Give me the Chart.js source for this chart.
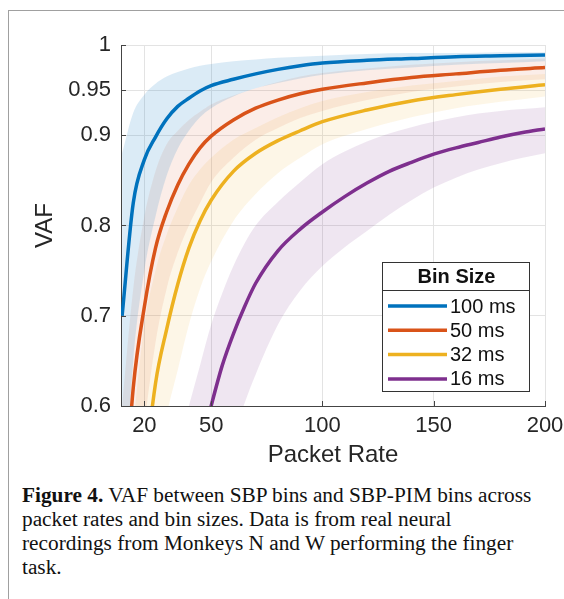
<!DOCTYPE html>
<html>
<head>
<meta charset="utf-8">
<script src="https://cdn.jsdelivr.net/npm/chart.js@4.4.1/dist/chart.umd.min.js"></script>
<style>
  html, body { margin: 0; padding: 0; background: #fff; }
  body { width: 564px; height: 599px; position: relative; overflow: hidden; }
  #frame { position: absolute; left: 8px; top: 10px; right: 0; bottom: 0;
           border-left: 1px solid #a0a0a0; border-top: 1px solid #a0a0a0; }
  #wrap { position: absolute; left: 0; top: 0; width: 564px; height: 475px; }
  #caption { position: absolute; left: 22px; top: 483px; white-space: nowrap;
             font-family: "Liberation Serif", "Times New Roman", serif;
             font-size: 21.3px; line-height: 24px; color: #111; }
</style>
</head>
<body>
<div id="frame"></div>
<div id="wrap"><canvas id="vafChart" width="564" height="475"></canvas></div>
<div id="caption"><b>Figure 4.</b> VAF between SBP bins and SBP-PIM bins across<br>packet rates and bin sizes. Data is from real neural<br>recordings from Monkeys N and W performing the finger<br>task.</div>

<script>
// tick labels
const xTicks = [20, 50, 100, 150, 200];
const yTicks = [0.6, 0.7, 0.8, 0.9, 0.95, 1];

// legend
const binLabels = ['100 ms', '50 ms', '32 ms', '16 ms'];
const lineColors = ['#0072BD', '#D95319', '#EDB120', '#7E2F8E'];
const bandColors = ['rgba(0,114,189,0.14)', 'rgba(217,83,25,0.10)', 'rgba(237,177,32,0.11)', 'rgba(126,47,142,0.12)'];

// 100 ms
const rates100 = [10, 15, 20, 25, 30, 35, 40, 45, 50, 60, 70, 80, 90, 100, 120, 140, 160, 180, 200];
const vaf100 = [0.70, 0.825, 0.873, 0.898, 0.918, 0.932, 0.941, 0.949, 0.955, 0.962, 0.968, 0.973, 0.977, 0.980, 0.983, 0.985, 0.987, 0.988, 0.989];
const upper100 = [0.88, 0.925, 0.945, 0.957, 0.965, 0.970, 0.974, 0.977, 0.979, 0.982, 0.984, 0.986, 0.987, 0.988, 0.990, 0.991, 0.991, 0.992, 0.992];
const lower100 = [0.45, 0.65, 0.75, 0.81, 0.855, 0.885, 0.905, 0.92, 0.93, 0.943, 0.952, 0.958, 0.963, 0.967, 0.972, 0.975, 0.978, 0.980, 0.982];

// 50 ms
const rates50 = [10, 15, 20, 25, 30, 35, 40, 45, 50, 60, 70, 80, 90, 100, 120, 140, 160, 180, 200];
const vaf50 = [0.45, 0.62, 0.71, 0.775, 0.815, 0.845, 0.868, 0.886, 0.899, 0.917, 0.930, 0.939, 0.946, 0.951, 0.958, 0.964, 0.968, 0.972, 0.975];
const upper50 = [0.60, 0.73, 0.81, 0.86, 0.89, 0.905, 0.917, 0.926, 0.934, 0.944, 0.952, 0.959, 0.965, 0.969, 0.974, 0.978, 0.981, 0.983, 0.985];
const lower50 = [0.30, 0.48, 0.58, 0.67, 0.73, 0.77, 0.80, 0.825, 0.848, 0.875, 0.895, 0.908, 0.919, 0.927, 0.939, 0.948, 0.954, 0.959, 0.962];

// 32 ms
const rates32 = [15, 20, 25, 30, 35, 40, 45, 50, 60, 70, 80, 90, 100, 120, 140, 160, 180, 200];
const vaf32 = [0.38, 0.52, 0.625, 0.685, 0.735, 0.775, 0.805, 0.828, 0.86, 0.88, 0.894, 0.905, 0.915, 0.928, 0.938, 0.945, 0.951, 0.956];
const upper32 = [0.58, 0.69, 0.75, 0.79, 0.82, 0.845, 0.862, 0.875, 0.895, 0.908, 0.92, 0.93, 0.938, 0.948, 0.955, 0.96, 0.965, 0.968];
const lower32 = [0.25, 0.40, 0.52, 0.59, 0.64, 0.69, 0.73, 0.76, 0.805, 0.835, 0.858, 0.875, 0.89, 0.907, 0.92, 0.93, 0.937, 0.943];

// 16 ms
const rates16 = [40, 45, 50, 55, 60, 65, 70, 80, 90, 100, 110, 120, 130, 140, 150, 160, 170, 180, 190, 200];
const vaf16 = [0.50, 0.55, 0.60, 0.645, 0.68, 0.71, 0.736, 0.772, 0.796, 0.815, 0.832, 0.847, 0.86, 0.87, 0.879, 0.886, 0.892, 0.898, 0.903, 0.907];
const upper16 = [0.60, 0.645, 0.69, 0.725, 0.755, 0.78, 0.80, 0.826, 0.848, 0.868, 0.882, 0.893, 0.902, 0.909, 0.915, 0.92, 0.924, 0.927, 0.929, 0.931];
const lower16 = [0.35, 0.42, 0.48, 0.53, 0.565, 0.603, 0.635, 0.69, 0.728, 0.755, 0.776, 0.794, 0.812, 0.828, 0.842, 0.853, 0.862, 0.869, 0.875, 0.880];

const series = [
  { xs: rates100, vaf: vaf100, hi: upper100, lo: lower100 },
  { xs: rates50, vaf: vaf50, hi: upper50, lo: lower50 },
  { xs: rates32, vaf: vaf32, hi: upper32, lo: lower32 },
  { xs: rates16, vaf: vaf16, hi: upper16, lo: lower16 }
];

const toPoints = (xs, ys) => xs.map((x, i) => ({ x: x, y: ys[i] }));
const FONT = '"Liberation Sans", Arial, Helvetica, sans-serif';

// 음영 밴드 먼저, 선은 위에
const datasets = [];
series.forEach((s, i) => {
  datasets.push({
    label: binLabels[i] + ' upper',
    data: toPoints(s.xs, s.hi),
    borderWidth: 0, pointRadius: 0, fill: false,
    cubicInterpolationMode: 'monotone', order: 10
  });
  datasets.push({
    label: binLabels[i] + ' lower',
    data: toPoints(s.xs, s.lo),
    borderWidth: 0, pointRadius: 0, fill: '-1',
    backgroundColor: bandColors[i],
    cubicInterpolationMode: 'monotone', order: 10
  });
});
series.forEach((s, i) => {
  datasets.push({
    label: binLabels[i],
    data: toPoints(s.xs, s.vaf),
    borderColor: lineColors[i], borderWidth: 3.5,
    pointRadius: 0, fill: false,
    cubicInterpolationMode: 'monotone', order: i
  });
});

// 안쪽 눈금 표시
const innerTicks = {
  id: 'innerTicks',
  afterDatasetsDraw(chart) {
    const { ctx, chartArea: a, scales } = chart;
    ctx.save();
    ctx.strokeStyle = '#444';
    ctx.lineWidth = 1;
    ctx.beginPath();
    xTicks.forEach(v => {
      const px = Math.round(scales.x.getPixelForValue(v)) + 0.5;
      ctx.moveTo(px, a.bottom); ctx.lineTo(px, a.bottom - 5);
    });
    yTicks.forEach(v => {
      const py = Math.round(scales.y.getPixelForValue(v)) + 0.5;
      ctx.moveTo(a.left, py); ctx.lineTo(a.left + 5, py);
    });
    ctx.stroke();
    ctx.restore();
  }
};

// 범례 박스 (Bin Size)
const binLegend = {
  id: 'binLegend',
  afterDraw(chart) {
    const ctx = chart.ctx;
    const x0 = 382, y0 = 262, w = 147, h = 129, headH = 28;
    ctx.save();
    ctx.fillStyle = '#fff';
    ctx.fillRect(x0, y0, w, h);
    ctx.strokeStyle = '#333';
    ctx.lineWidth = 1;
    ctx.strokeRect(x0 + 0.5, y0 + 0.5, w, h);
    ctx.beginPath();
    ctx.moveTo(x0, y0 + headH + 0.5);
    ctx.lineTo(x0 + w, y0 + headH + 0.5);
    ctx.stroke();

    ctx.fillStyle = '#111';
    ctx.textBaseline = 'middle';
    ctx.textAlign = 'center';
    ctx.font = 'bold 20px ' + FONT;
    ctx.fillText('Bin Size', x0 + w / 2 + 1, y0 + headH / 2 + 1);

    ctx.textAlign = 'left';
    ctx.font = '20px ' + FONT;
    binLabels.forEach((lab, i) => {
      const y = y0 + headH + 16 + i * 24.3;
      ctx.strokeStyle = lineColors[i];
      ctx.lineWidth = 3.5;
      ctx.beginPath();
      ctx.moveTo(x0 + 6, y);
      ctx.lineTo(x0 + 65, y);
      ctx.stroke();
      ctx.fillStyle = '#111';
      ctx.fillText(lab, x0 + 68, y + 1);
    });
    ctx.restore();
  }
};

new Chart(document.getElementById('vafChart'), {
  type: 'line',
  data: { datasets: datasets },
  options: {
    responsive: false,
    animation: false,
    layout: { padding: { left: 0, top: 45, right: 19, bottom: 0 } },
    plugins: {
      legend: { display: false },
      tooltip: { enabled: false }
    },
    scales: {
      x: {
        type: 'linear',
        min: 9.5, max: 200,
        afterBuildTicks: scale => { scale.ticks = xTicks.map(v => ({ value: v })); },
        afterFit: scale => { scale.height = 69; scale.paddingLeft = 0; scale.paddingRight = 0; },
        ticks: { font: { family: FONT, size: 22 }, color: '#262626', padding: 7, maxRotation: 0 },
        grid: { color: '#e3e3e3', drawTicks: false },
        border: { color: '#444', width: 1 },
        title: { display: true, text: 'Packet Rate', font: { family: FONT, size: 24 }, color: '#262626', padding: { bottom: 5 } }
      },
      y: {
        min: 0.6, max: 1,
        afterBuildTicks: scale => { scale.ticks = yTicks.map(v => ({ value: v })); },
        afterFit: scale => { scale.width = 121; scale.paddingTop = 0; scale.paddingBottom = 0; },
        ticks: { font: { family: FONT, size: 22 }, color: '#262626', padding: 10, callback: v => String(v) },
        grid: { color: '#e3e3e3', drawTicks: false },
        border: { color: '#444', width: 1 },
        title: { display: true, text: 'VAF', font: { family: FONT, size: 24 }, color: '#262626', padding: { top: 31 } }
      }
    }
  },
  plugins: [innerTicks, binLegend]
});
</script>
</body>
</html>
